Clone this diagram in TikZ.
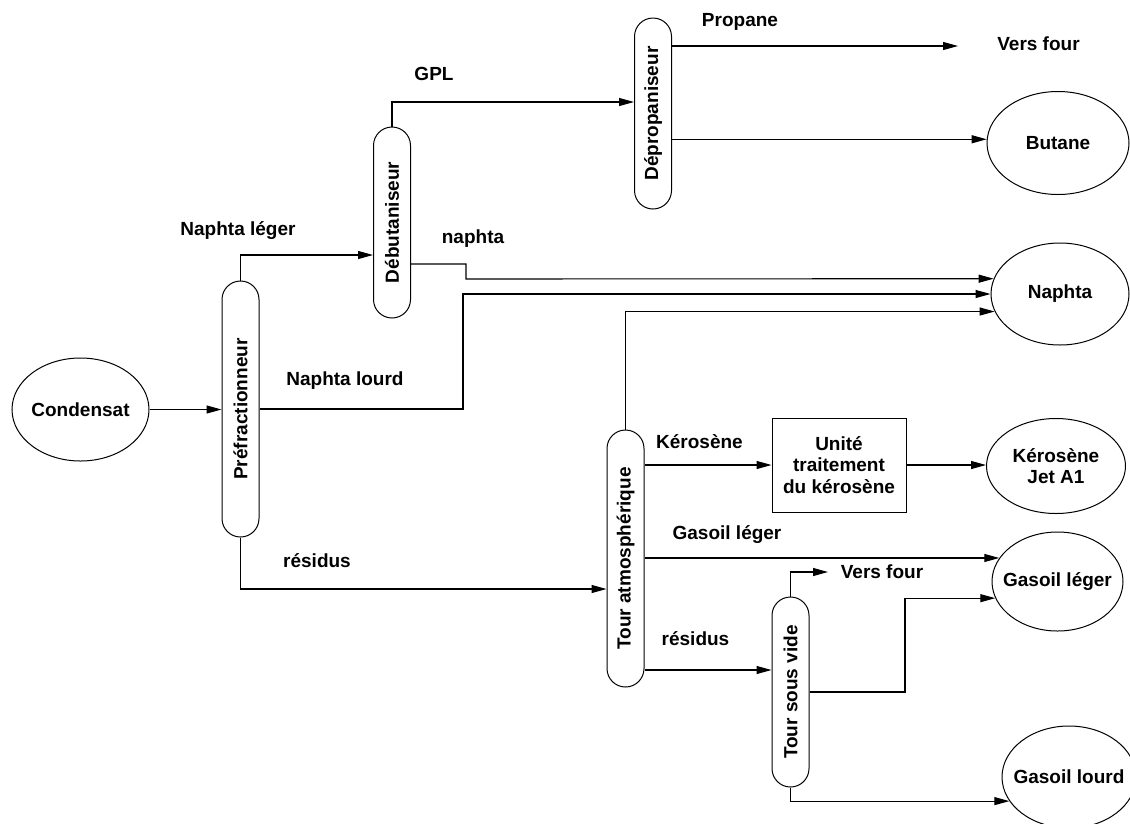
\documentclass[tikz,border=0pt]{standalone}
\usepackage{fontspec}
\setmainfont{Liberation Sans}
\usetikzlibrary{arrows.meta,shapes.geometric}
\begin{document}
\begin{tikzpicture}[x=1pt,y=-1pt,
  every node/.style={font=\bfseries\fontsize{19}{21.5}\selectfont},
  lbl/.style={inner sep=0pt,text height=13.6pt,text depth=0pt},
  prod/.style={draw,ellipse,inner sep=0pt,line width=1pt},
  column/.style={draw,rectangle,rounded corners=18.5pt,minimum width=37pt,inner sep=0pt,line width=1pt},
  unit/.style={draw,rectangle,align=center,minimum width=134pt,minimum height=94pt,inner sep=0pt,line width=1pt},
  flow/.style={line width=1.1pt,-{Triangle[length=15pt,width=8pt]}}]
\useasboundingbox (0,0) rectangle (1130,823);

% equipment
\node[prod,minimum width=137pt,minimum height=103pt,label={center:Condensat}] (cond) at (80.5,409.5) {};
\node[column,minimum height=256pt,label={[rotate=90]center:Préfractionneur}] (pref) at (240.5,409) {};
\node[column,minimum height=191pt,label={[rotate=90]center:Débutaniseur}] (debut) at (392,222.5) {};
\node[column,minimum height=191pt,label={[rotate=90]center:Dépropaniseur}] (deprop) at (653,113.5) {};
\node[column,minimum height=257pt,label={[rotate=90]center:Tour atmosphérique}] (atm) at (625.5,558.5) {};
\node[column,minimum height=190pt,label={[rotate=90]center:Tour sous vide}] (tsv) at (790.5,692) {};
\node[unit] (ker) at (839,465) {Unité\\traitement\\du kérosène};

% products
\node[prod,minimum width=142pt,minimum height=103pt,label={center:Butane}] (butane) at (1058,143) {};
\node[prod,minimum width=138pt,minimum height=102pt,label={center:Naphta}] (naphta) at (1060,294) {};
\node[prod,minimum width=139pt,minimum height=95pt,label={[align=center]center:Kérosène\\Jet A1}] (jet) at (1056,466) {};
\node[prod,minimum width=131pt,minimum height=99pt,label={center:Gasoil léger}] (gl) at (1057.5,581.5) {};
\node[prod,minimum width=134pt,minimum height=102pt,label={center:Gasoil lourd}] (glo) at (1069,777) {};

% free ends
\coordinate (four1) at (958,46);
\coordinate (four2) at (828,572);

% stream labels
\node[lbl] (tNL) at (238,229) {Naphta léger};
\node[lbl] (tGPL) at (434,74) {GPL};
\node[lbl] (tProp) at (740,20) {Propane};
\node[lbl] (tVF1) at (1038.5,44) {Vers four};
\node[lbl] (tnaph) at (473,237) {naphta};
\node[lbl] (tNLd) at (345,379) {Naphta lourd};
\node[lbl] (tRes1) at (317,561) {résidus};
\node[lbl] (tKer) at (699.5,442) {Kérosène};
\node[lbl] (tGL) at (727,533) {Gasoil léger};
\node[lbl] (tVF2) at (882,572) {Vers four};
\node[lbl] (tRes2) at (695.5,639) {résidus};

% connectors
\draw[flow] (cond.east) -- (cond.east -| pref.west);
\draw[flow] (pref.north) |- (debut.west |- 0,255);
\draw[flow] (debut.north) |- (deprop.west |- 0,102);
\draw[flow] (deprop.east |- four1) -- (four1);
\draw[flow] (deprop.east |- butane.177.5) -- (butane.177.5);
\draw[flow] (debut.east |- 0,264) -- (466,264) -- (466,279) -- (naphta.167.2);
\draw[flow] (pref.east) -- (463,409) -- (463,294) -- (naphta.180);
\draw[flow] (atm.north) |- (naphta.195.6);
\draw[flow] (pref.south) |- (atm.west |- 0,589);
\draw[flow] (atm.east |- ker.west) -- (ker.west);
\draw[flow] (ker.east) -- (ker.east -| jet.west);
\draw[flow] (atm.east |- gl.158.9) -- (gl.158.9);
\draw[flow] (atm.east |- 0,670) -- (tsv.west |- 0,670);
\draw[flow] (tsv.north) |- (four2);
\draw[flow] (tsv.east) -- (905,692) |- (gl.195);
\draw[flow] (tsv.south) |- (glo.202.1);
\end{tikzpicture}
\end{document}
